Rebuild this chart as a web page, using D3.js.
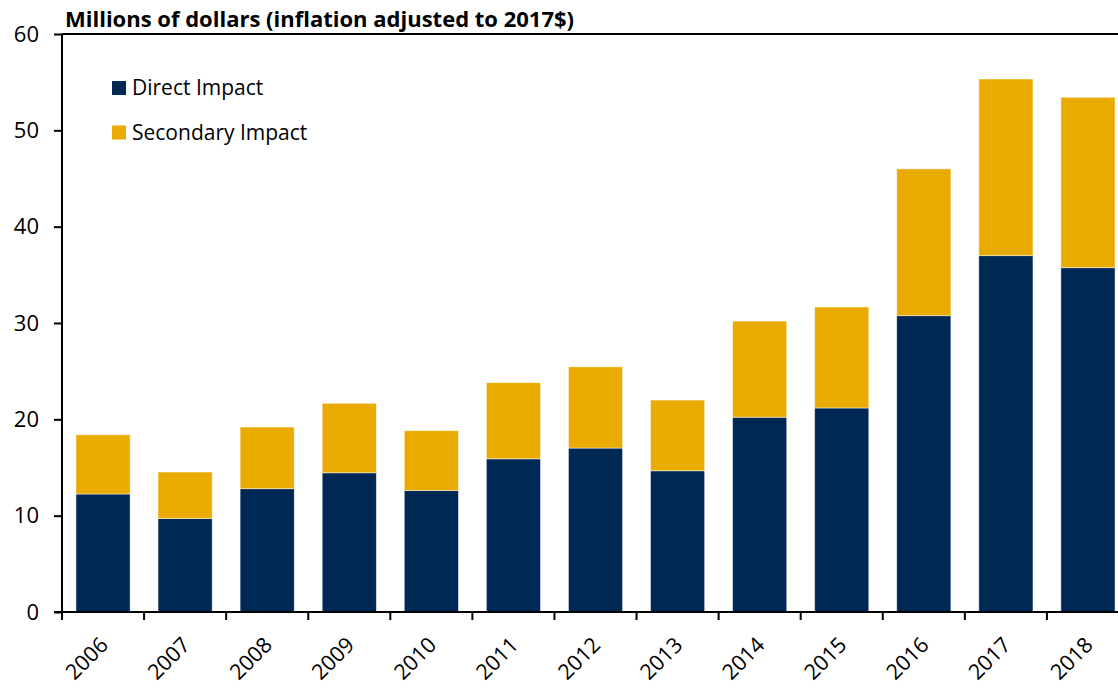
<!DOCTYPE html>
<html><head><meta charset="utf-8">
<script src="https://cdn.jsdelivr.net/npm/d3@7"></script>
<style>html,body{margin:0;padding:0;background:#fff;}svg{display:block;}</style>
</head><body>
<svg id="c" width="1118" height="688"></svg>
<script>
const years = ["2006","2007","2008","2009","2010","2011","2012","2013","2014","2015","2016","2017","2018"];
const direct = [12.25, 9.7, 12.8, 14.45, 12.6, 15.9, 17.02, 14.66, 20.22, 21.18, 30.76, 36.99, 35.74];
const secondary = [6.15, 4.83, 6.4, 7.22, 6.22, 7.9, 8.43, 7.34, 9.98, 10.48, 15.24, 18.34, 17.69];
const yTicks = [0, 10, 20, 30, 40, 50, 60];
const seriesNames = ["Direct Impact", "Secondary Impact"];
const colors = ["#002855", "#EAAB00"];
const title = "Millions of dollars (inflation adjusted to 2017$)";

const svg = d3.select("#c");
const font = "'Open Sans', sans-serif";
const mLeft = 62, mTop = 34, mBottom = 612, mRight = 1129;

const x = d3.scaleBand().domain(years).range([mLeft, mRight]).paddingInner(0.34).paddingOuter(0.17);
const y = d3.scaleLinear().domain([0, 60]).range([mBottom, mTop]);

const rows = years.map((yr, i) => ({year: yr, direct: direct[i], secondary: secondary[i]}));
const stack = d3.stack().keys(["direct", "secondary"])(rows);

svg.append("g").selectAll("g").data(stack).join("g")
  .attr("fill", (d, i) => colors[i])
  .selectAll("rect").data(d => d).join("rect")
  .attr("x", d => x(d.data.year))
  .attr("width", x.bandwidth())
  .attr("y", d => y(d[1]))
  .attr("height", d => y(d[0]) - y(d[1]))
  .attr("stroke", "rgba(255,255,255,0.6)")
  .attr("stroke-width", 0.8);

// top border
svg.append("line").attr("x1", mLeft).attr("x2", 1118).attr("y1", y(60)).attr("y2", y(60))
  .attr("stroke", "#000").attr("stroke-width", 2);

// y axis
const ya = svg.append("g").attr("transform", `translate(${mLeft},0)`)
  .call(d3.axisLeft(y).tickValues(yTicks).tickSize(8).tickPadding(15).tickFormat(d3.format("d")));
ya.select(".domain").attr("stroke", "#000").attr("stroke-width", 2).attr("d", `M0,${y(60)}V${y(0)}`);
ya.selectAll(".tick line").attr("stroke", "#000").attr("stroke-width", 2);
ya.selectAll(".tick text").attr("font-family", font).attr("font-size", 22).attr("fill", "#000");

// x axis
const xa = svg.append("g").attr("transform", `translate(0,${mBottom})`);
xa.append("line").attr("x1", mLeft - 8).attr("x2", 1118).attr("y1", 0).attr("y2", 0)
  .attr("stroke", "#000").attr("stroke-width", 2);
const step = x.step();
const tickPos = years.map((yr, i) => mLeft + i * step);
xa.selectAll("line.tk").data(tickPos).join("line").attr("class", "tk")
  .attr("x1", d => d).attr("x2", d => d).attr("y1", 0).attr("y2", 8)
  .attr("stroke", "#000").attr("stroke-width", 2);
xa.selectAll("text").data(years).join("text")
  .attr("transform", d => `translate(${x(d) + x.bandwidth() / 2 + 1},${29}) rotate(-45)`)
  .attr("text-anchor", "end")
  .attr("dy", "0.35em")
  .attr("font-family", font).attr("font-size", 21.5).attr("fill", "#000")
  .text(d => d);

// title
svg.append("text").attr("x", 65).attr("y", 27)
  .attr("font-family", font).attr("font-weight", "bold").attr("font-size", 22).attr("fill", "#000")
  .text(title);

// legend
const lg = svg.append("g");
seriesNames.forEach((n, i) => {
  const yy = 81 + i * 44.5;
  lg.append("rect").attr("x", 112).attr("y", yy).attr("width", 14).attr("height", 14).attr("fill", colors[i]);
  lg.append("text").attr("x", 132).attr("y", yy + 7).attr("dy", "0.35em")
    .attr("font-family", font).attr("font-size", 21).attr("fill", "#000").text(n);
});
</script>
</body></html>
